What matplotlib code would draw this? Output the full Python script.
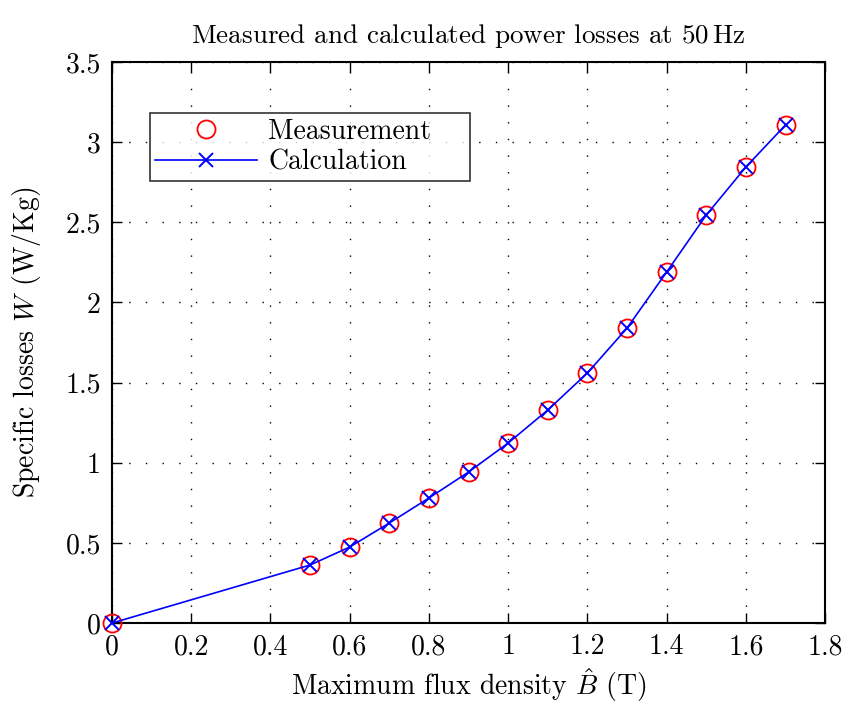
import matplotlib
matplotlib.use("Agg")
import matplotlib.pyplot as plt

plt.rcParams['font.family'] = ['cmr10', 'DejaVu Serif']
plt.rcParams['mathtext.fontset'] = 'cm'
plt.rcParams['axes.unicode_minus'] = False
plt.rcParams['axes.formatter.use_mathtext'] = True

B = [0.0, 0.5, 0.6, 0.7, 0.8, 0.9, 1.0, 1.1, 1.2, 1.3, 1.4, 1.5, 1.6, 1.7]
measured = [0.0, 0.362, 0.474, 0.624, 0.78, 0.942, 1.123, 1.329, 1.56, 1.84, 2.19, 2.545, 2.845, 3.107]
calculated = [0.0, 0.362, 0.474, 0.624, 0.78, 0.942, 1.123, 1.329, 1.56, 1.84, 2.19, 2.545, 2.845, 3.107]
xticks = [0, 0.2, 0.4, 0.6, 0.8, 1.0, 1.2, 1.4, 1.6, 1.8]
xticklabels = ['0', '0.2', '0.4', '0.6', '0.8', '1', '1.2', '1.4', '1.6', '1.8']
yticks = [0, 0.5, 1, 1.5, 2, 2.5, 3, 3.5]
yticklabels = ['0', '0.5', '1', '1.5', '2', '2.5', '3', '3.5']

fig = plt.figure(figsize=(8.42, 7.04), dpi=100)
ax = fig.add_axes([0.133, 0.115, 0.847, 0.797])

ax.plot(B, measured, linestyle='none', marker='o', markersize=13, markerfacecolor='none',
        markeredgecolor='red', markeredgewidth=1.3, label='Measurement', zorder=3, clip_on=False)
ax.plot(B, calculated, color='blue', linewidth=1.2, marker='x', markersize=10,
        markeredgewidth=1.4, label='Calculation', zorder=4, clip_on=False)

ax.set_xlim(0, 1.8)
ax.set_ylim(0, 3.5)
ax.set_xticks(xticks)
ax.set_xticklabels(xticklabels)
ax.set_yticks(yticks)
ax.set_yticklabels(yticklabels)
ax.tick_params(direction='in', top=True, right=True, labelsize=20, length=7, width=1, pad=8)
ax.grid(True, color='black', linestyle=(0, (1, 11)), linewidth=1.0)
for s in ax.spines.values():
    s.set_linewidth(1.5)

ax.set_xlabel(r'Maximum flux density $\hat{B}$ (T)', fontsize=20, labelpad=4)
ax.set_ylabel(r'Specific losses $W$ (W/Kg)', fontsize=20, labelpad=16)
ax.set_title('Measured and calculated power losses at 50$\\,$Hz', fontsize=19.5, pad=14)

leg = ax.legend(loc='upper left', bbox_to_anchor=(0.053, 0.784, 0.449, 0.125), mode='expand',
                borderaxespad=0, fontsize=20, frameon=True, fancybox=False, edgecolor='black',
                handlelength=3.67, handletextpad=0.4, borderpad=0.2, labelspacing=0.15)
leg.get_frame().set_linewidth(1.2)

fig.savefig('out.png', dpi=100)
